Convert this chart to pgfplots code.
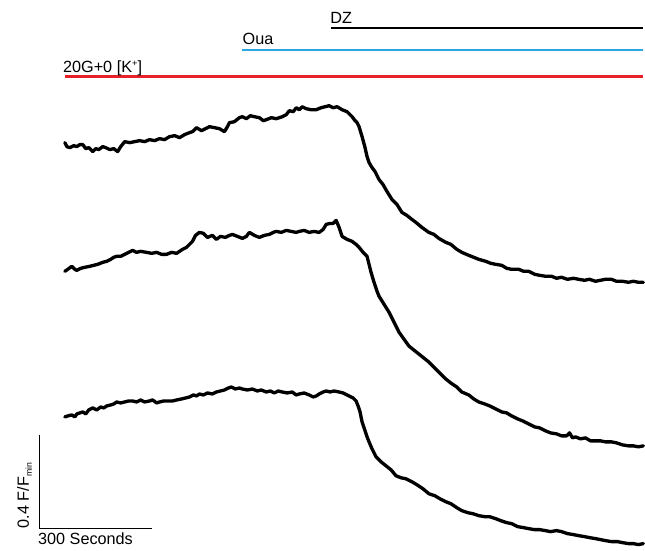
\documentclass[border=0pt]{standalone}
\usepackage{pgfplots}
\pgfplotsset{compat=1.18}
\usepackage{fontspec}
\setmainfont{Liberation Sans}
\definecolor{barred}{HTML}{E8202A}
\definecolor{barblue}{HTML}{2AA6E0}
\begin{document}
\begin{tikzpicture}
\begin{axis}[scale only axis, width=483.75pt, height=414pt,
  xmin=0, xmax=645, ymin=0, ymax=552, y dir=reverse,
  hide axis, clip=false,
  every axis plot/.append style={line join=round, line cap=round}]
\addplot[draw=none, forget plot] coordinates {(0,0) (645,552)};
% treatment bars
\addplot[black, line width=2pt, line cap=butt] coordinates {(332,28) (645,28)};
\addplot[barblue, line width=2pt, line cap=butt] coordinates {(243,50) (645,50)};
\addplot[barred, line width=2pt, line cap=butt] coordinates {(65,77) (645,77)};
\node[anchor=base west, inner sep=0pt, font=\fontsize{12.2}{14}\selectfont] at (axis cs:331,24) {DZ};
\node[anchor=base west, inner sep=0pt, font=\fontsize{12.2}{14}\selectfont] at (axis cs:243,45) {Oua};
\node[anchor=base west, inner sep=0pt, font=\fontsize{12.2}{14}\selectfont] at (axis cs:63,73) {20G+0 [K\raisebox{0.75ex}{\fontsize{7}{8}\selectfont +}]};
% scale bars
\addplot[black, line width=0.8pt, line cap=butt, line join=miter] coordinates {(40,436) (40,530) (152,530)};
\node[anchor=base west, inner sep=0pt, font=\fontsize{12.2}{14}\selectfont] at (axis cs:38,546) {300 Seconds};
\node[rotate=90, anchor=base west, inner sep=0pt, font=\fontsize{12.2}{14}\selectfont] at (axis cs:29,530) {0.4 F/F\raisebox{-0.35ex}{\fontsize{6.5}{7}\selectfont min}};
% trace 1
\addplot[black, line width=2.5pt] coordinates {
(65,143)(67,147)(70,148)(74,146)(77,147)(80,145)(83,145)(86,149)(89,148)(93,152)(96,149)(99,150)(103,147)(106,148)(110,150)(114,149)(118,152)(121,147)(125,142)(130,143)(135,142)(140,141)(145,142)(150,140)(155,141)(160,139)(165,140)(170,137)(175,136)(180,138)(185,135)(190,133)(193,132)(197,128)(202,131)(206,129)(210,127)(215,128)(220,129)(225,132)(228,127)(230,123)(235,122)(240,118)(243,117)(247,119)(251,116)(255,117)(260,118)(264,121)(267,120)(272,118)(277,119)(283,117)(287,115)(290,111)(294,112)(297,108)(300,110)(303,107)(307,109)(312,110)(317,110)(322,108)(326,107)(330,106)(334,108)(338,107)(343,110)(348,112)(353,117)(356,121)(358,123)(360,127)(363,137)(366,148)(368,157)(370,163)(373,168)(376,172)(380,180)(384,185)(388,192)(393,200)(398,205)(403,213)(408,216)(413,220)(417,223)(423,228)(430,233)(435,235)(440,239)(447,243)(452,245)(458,250)(463,253)(470,256)(475,258)(480,260)(487,262)(492,264)(497,265)(503,266)(508,269)(513,270)(520,270)(525,272)(530,272)(536,275)(541,276)(547,277)(553,277)(558,279)(563,278)(569,280)(575,279)(580,280)(586,281)(591,280)(597,282)(602,281)(607,280)(613,280)(618,282)(624,282)(630,283)(635,282)(640,283)(645,283)};
% trace 2
\addplot[black, line width=2.5pt] coordinates {
(65,272)(68,270)(72,267)(75,270)(77,271)(81,269)(85,268)(90,267)(94,266)(98,265)(103,263)(107,262)(111,260)(114,258)(117,257)(121,257)(125,255)(129,253)(133,251)(137,253)(141,252)(147,253)(152,254)(157,253)(162,255)(167,255)(172,253)(177,254)(183,250)(187,248)(190,245)(193,242)(196,236)(200,233)(204,234)(208,238)(213,236)(217,240)(221,237)(226,238)(230,236)(233,235)(238,237)(243,239)(247,237)(250,233)(255,236)(260,238)(265,236)(270,235)(274,233)(277,232)(282,233)(287,231)(292,232)(297,233)(300,232)(305,231)(310,233)(315,232)(320,233)(324,230)(327,225)(331,224)(334,224)(337,221)(340,228)(343,237)(348,240)(353,242)(357,245)(360,248)(364,253)(368,257)(370,265)(372,273)(375,283)(378,292)(380,297)(385,305)(390,313)(395,323)(400,333)(405,340)(410,347)(415,351)(420,355)(425,359)(430,363)(435,368)(440,373)(447,380)(452,384)(458,388)(463,393)(470,396)(475,400)(480,403)(486,405)(491,407)(497,410)(503,413)(508,414)(513,417)(519,420)(524,422)(530,425)(536,428)(541,429)(547,432)(552,434)(558,435)(563,437)(568,437)(571,434)(574,439)(577,438)(582,440)(587,439)(592,442)(597,442)(602,442)(607,443)(613,443)(618,444)(624,446)(630,447)(635,447)(640,448)(645,447)};
% trace 3
\addplot[black, line width=2.5pt] coordinates {
(65,418)(68,417)(72,416)(75,418)(77,415)(80,414)(83,413)(86,415)(89,411)(93,409)(97,411)(101,408)(104,409)(107,407)(111,406)(114,405)(117,403)(121,404)(125,403)(129,402)(133,402)(137,403)(141,401)(145,403)(150,402)(153,401)(157,404)(160,403)(164,402)(169,402)(173,402)(177,401)(182,400)(186,399)(190,398)(194,396)(197,397)(200,395)(204,396)(208,394)(213,395)(217,393)(221,392)(225,391)(229,389)(232,388)(236,390)(240,389)(243,390)(248,391)(253,390)(258,392)(262,391)(267,393)(271,392)(275,394)(279,392)(283,393)(288,394)(293,393)(297,396)(300,395)(305,394)(310,396)(314,398)(317,397)(320,395)(324,393)(327,392)(331,393)(335,392)(340,393)(344,394)(348,396)(350,397)(354,399)(357,402)(359,407)(361,413)(363,423)(366,432)(368,438)(370,443)(373,450)(377,458)(382,463)(387,467)(392,471)(397,477)(402,479)(407,480)(413,483)(418,486)(424,490)(430,495)(436,497)(441,500)(447,503)(452,505)(458,509)(463,512)(469,514)(474,515)(480,517)(486,518)(491,518)(497,520)(502,522)(508,524)(513,525)(519,528)(525,529)(530,530)(536,531)(541,531)(547,532)(552,533)(558,532)(563,533)(569,535)(575,536)(580,537)(586,538)(591,539)(597,540)(602,541)(607,542)(613,543)(619,543)(624,544)(630,545)(635,545)(640,546)(645,545)};
\end{axis}
\end{tikzpicture}
\end{document}
